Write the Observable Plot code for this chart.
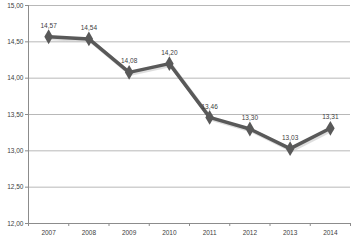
<!DOCTYPE html>
<html><head><meta charset="utf-8">
<script src="https://cdn.jsdelivr.net/npm/d3@7"></script>
<script src="https://cdn.jsdelivr.net/npm/@observablehq/plot@0.6"></script>
<style>body{margin:0;background:#fff;font-family:"Liberation Sans",Arial,sans-serif}</style>
</head><body><div id="chart"></div>
<script>
const years = ["2007","2008","2009","2010","2011","2012","2013","2014"];
const values = [14.57,14.54,14.08,14.20,13.46,13.30,13.03,13.31];
const yTicks = [12,12.5,13,13.5,14,14.5,15];

const data = years.map((y,i)=>({year:y, i:i+0.5, v:values[i]}));
const fmt = d => d3.format(".2f")(d).replace(".", ",");

const chart = Plot.plot({
  width: 356, height: 240,
  marginLeft: 28, marginRight: 6, marginTop: 5, marginBottom: 17,
  style: {fontFamily: "Liberation Sans, Arial, sans-serif", fontSize: "6.5px", color: "#404040"},
  x: {type: "linear", domain: [0, years.length], axis: null, label: null},
  y: {domain: [12, 15], axis: null, label: null},
  marks: [
    Plot.ruleY(yTicks.slice(1), {stroke: "#b8b8b8", strokeWidth: 1}),
    Plot.ruleY([12], {stroke: "#8c8c8c"}),
    Plot.ruleX([0], {stroke: "#8c8c8c"}),
    Plot.axisY({ticks: yTicks, tickFormat: fmt, tickSize: 3, tickPadding: 2, stroke: "#8c8c8c", fill: "#404040", fontSize: 6.5, label: null}),
    Plot.axisX({ticks: d3.range(years.length + 1), tickFormat: () => "", tickSize: 3, stroke: "#8c8c8c", label: null}),
    Plot.axisX({ticks: data.map(d => d.i), tickFormat: (d, k) => years[k], tickSize: 0, tickPadding: 7, fill: "#404040", fontSize: 6.5, label: null}),
    Plot.line(data, {x: "i", y: "v", stroke: "#c8c8c8", strokeWidth: 4, dx: 1.5, dy: 1.5, strokeOpacity: 0.6}),
    Plot.line(data, {x: "i", y: "v", stroke: "#595959", strokeWidth: 3.5}),
    Plot.dot(data, {x: "i", y: "v", symbol: "diamond", r: 4.5, fill: "#595959", stroke: "none"}),
    Plot.text(data, {x: "i", y: "v", text: d => fmt(d.v), dy: -11, fill: "#404040", fontSize: 6.5})
  ]
});
document.getElementById("chart").appendChild(chart);
</script></body></html>
